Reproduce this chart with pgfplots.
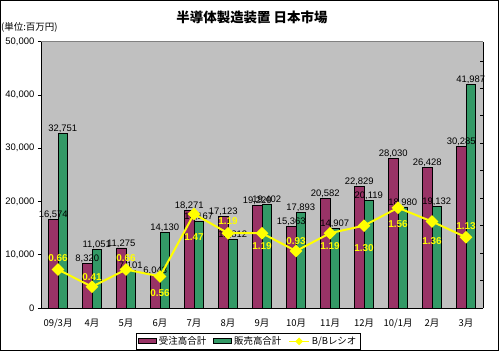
\documentclass[border=0pt]{standalone}
\usepackage{fontspec}
\setmainfont{Liberation Sans}
\newfontfamily\cjk{Noto Sans CJK JP}
\usepackage{pgfplots}
\usepackage{pgfplotstable}
\pgfplotsset{compat=1.18}
\definecolor{jpurple}{HTML}{993366}
\definecolor{jgreen}{HTML}{339966}
\definecolor{plotgray}{HTML}{C0C0C0}
\definecolor{jyellow}{HTML}{FFFF00}

\pgfplotstableread{
x order sales
0 16574 32751
1 8320 11051
2 11275 7101
3 6043 14130
4 18271 16167
5 17123 12812
6 19220 19402
7 15363 17893
8 20582 14907
9 22829 20119
10 28030 18980
11 26428 19132
12 30285 41987
}\bars

\pgfplotstableread{
x r dy
0 0.66 11
1 0.41 10
2 0.66 11
3 0.56 -17
4 1.47 -23
5 1.19 12
6 1.19 -13
7 0.93 10
8 1.19 -13
9 1.30 -22
10 1.56 -16
11 1.36 -20
12 1.13 11
}\ratio

\begin{document}
\begin{tikzpicture}
\useasboundingbox (0,0) rectangle (500bp,353bp);
\begin{axis}[
  at={(41bp,45bp)}, anchor=south west,
  scale only axis, width=442bp, height=266.3bp,
  xmin=-0.5, xmax=12.5, ymin=0, ymax=50000,
  ytick={0,10000,20000,30000,40000,50000},
  scaled y ticks=false,
  /pgf/number format/assume math mode=true,
  yticklabel style={/pgf/number format/1000 sep={,}, font=\fontsize{9.5}{10}\selectfont, inner sep=0pt, xshift=-3.5bp},
  xtick={0,...,12},
  xticklabels={09/3月,4月,5月,6月,7月,8月,9月,10月,11月,12月,10/1月,2月,3月},
  xticklabel style={font=\cjk\fontsize{9.5}{10}\selectfont, inner sep=0pt, yshift=-8bp},
  xtick style={draw=none},
  ytick style={black, line width=0.8bp},
  tick align=outside, major tick length=3bp,
  axis y line*=left, axis x line*=bottom,
  axis line style={black, line width=0.8bp, -},
  axis background/.style={fill=plotgray},
  ybar, bar width=9.5bp,
  nodes near coords={\pgfmathprintnumber[fixed, precision=0, 1000 sep={,}, assume math mode=true]{\pgfplotspointmeta}},
  every node near coord/.append style={font=\fontsize{9.5}{10}\selectfont, text=black, inner sep=0.3bp, anchor=south},
  after end axis/.code={\draw[gray, line width=0.8bp] (rel axis cs:0,1) -- (rel axis cs:1,1);},
]
\addplot[fill=jpurple, draw=black, line width=0.8bp, bar shift=-4.75bp] table[x=x, y=order]{\bars};
\addplot[fill=jgreen, draw=black, line width=0.8bp, bar shift=4.75bp] table[x=x, y=sales]{\bars};
\end{axis}
\begin{axis}[
  at={(41bp,45bp)}, anchor=south west,
  scale only axis, width=442bp, height=266.3bp,
  xmin=-0.5, xmax=12.5, ymin=0.1, ymax=3.98,
  axis x line=none, axis y line*=right,
  axis line style={black, line width=0.8bp, -},
  ytick={0.1,0.5,0.9,1.3,1.7,2.1,2.5,2.9,3.3,3.7},
  yticklabels={},
  ytick style={black, line width=0.8bp},
  tick align=inside, major tick length=3bp,
  legend style={at={(0.469,-0.0927)}, anchor=north, legend columns=3, draw=black, line width=0.8bp, fill=white,
    font=\cjk\fontsize{9.5}{10}\selectfont, inner sep=1.5bp, row sep=0pt,
    /tikz/every even column/.append style={column sep=5bp}},
  legend cell align=left,
]
\addlegendimage{legend image code/.code={\draw[fill=jpurple, draw=black, line width=0.8bp] (0bp,-2.5bp) rectangle (18bp,2.5bp);}}
\addlegendentry{受注高合計}
\addlegendimage{legend image code/.code={\draw[fill=jgreen, draw=black, line width=0.8bp] (0bp,-2.5bp) rectangle (18bp,2.5bp);}}
\addlegendentry{販売高合計}
\addplot[jyellow, line width=2bp, mark=square*, mark size=3.5bp, mark options={rotate=45, solid, fill=jyellow},
  legend image code/.code={\draw[jyellow, line width=1.5bp] (0bp,0bp) -- (20bp,0bp); \fill[jyellow] (10bp,2.5bp) -- (12.5bp,0bp) -- (10bp,-2.5bp) -- (7.5bp,0bp) -- cycle;}]
  table[x=x, y=r]{\ratio};
\addlegendentry{B/Bレシオ}
\addplot[draw=none, mark=none, forget plot, point meta=\thisrow{r},
  visualization depends on={\thisrow{dy} \as \dy},
  nodes near coords={\pgfmathprintnumber[fixed, fixed zerofill, precision=2, assume math mode=true]{\pgfplotspointmeta}},
  every node near coord/.append style={anchor=center, yshift=\dy bp, text=jyellow, inner sep=0pt, font=\bfseries\fontsize{10}{10}\selectfont}]
  table[x=x, y=r]{\ratio};
\end{axis}
\node[font=\cjk\bfseries\fontsize{13.5}{14}\selectfont] at (252bp,336bp) {半導体製造装置 日本市場};
\node[anchor=west, font=\cjk\fontsize{9.5}{10}\selectfont, inner sep=0pt] at (1bp,326bp) {(単位:百万円)};
\draw[black, line width=1bp] (0.5bp,2.5bp) rectangle (498bp,352.5bp);
\end{tikzpicture}
\end{document}
